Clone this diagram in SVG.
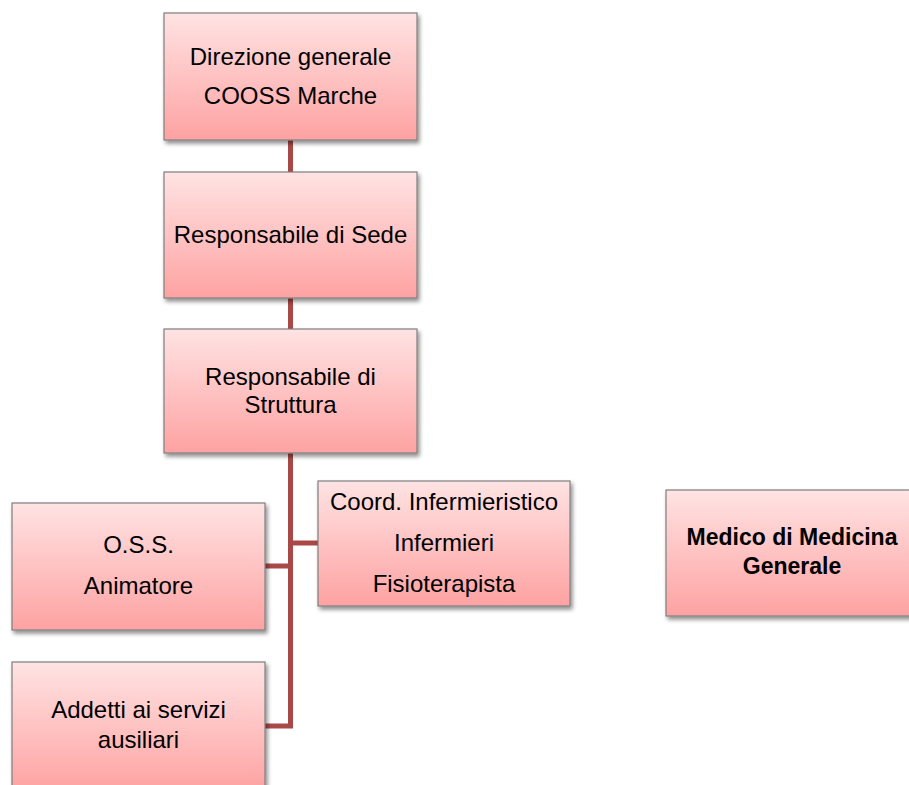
<svg xmlns="http://www.w3.org/2000/svg" width="909" height="785" viewBox="0 0 909 785">
<style>
.box{fill:url(#g);stroke:#7f7f7f;stroke-width:1.2;filter:url(#sh)}
.t{font-family:"Liberation Sans",Arial,sans-serif;font-size:24px;fill:#000;text-anchor:middle}
.b{font-weight:bold;font-size:23px}
.c{stroke:#a94846;stroke-width:5;fill:none}
</style>
<defs>
<linearGradient id="g" x1="0" y1="0" x2="0" y2="1">
<stop offset="0" stop-color="#ffe3e3"/>
<stop offset="1" stop-color="#fea2a2"/>
</linearGradient>
<filter id="sh" x="-10%" y="-10%" width="130%" height="130%">
<feGaussianBlur in="SourceAlpha" stdDeviation="2"/>
<feOffset dx="2" dy="3" result="o"/>
<feComponentTransfer><feFuncA type="linear" slope="0.45"/></feComponentTransfer>
<feMerge><feMergeNode/><feMergeNode in="SourceGraphic"/></feMerge>
</filter>
</defs>
<g id="connectors">
<path class="c" d="M290.5 140V172M290.5 298V329M290.5 453V726H264M290.5 543H318M290.5 566H265"/>
</g>
<g id="direzione"><rect class="box" x="164" y="13" width="253" height="127"/>
<text class="t" x="290.5" y="65">Direzione generale</text><text class="t" x="290.5" y="104">COOSS Marche</text></g>
<g id="sede"><rect class="box" x="164" y="172" width="253" height="126"/>
<text class="t" x="290.5" y="243">Responsabile di Sede</text></g>
<g id="struttura"><rect class="box" x="164" y="329" width="253" height="124"/>
<text class="t" x="290.5" y="385">Responsabile di</text><text class="t" x="290.5" y="413">Struttura</text></g>
<g id="oss"><rect class="box" x="12" y="503" width="253" height="127"/>
<text class="t" x="138.5" y="553">O.S.S.</text><text class="t" x="138.5" y="594">Animatore</text></g>
<g id="coord"><rect class="box" x="318" y="481" width="252" height="125"/>
<text class="t" x="444" y="510">Coord. Infermieristico</text><text class="t" x="444" y="551">Infermieri</text><text class="t" x="444" y="592">Fisioterapista</text></g>
<g id="medico"><rect class="box" x="666" y="490" width="253" height="126"/>
<text class="t b" x="792" y="545">Medico di Medicina</text><text class="t b" x="792" y="574">Generale</text></g>
<g id="addetti"><rect class="box" x="12" y="662" width="253" height="130"/>
<text class="t" x="138.5" y="718">Addetti ai servizi</text><text class="t" x="138.5" y="748">ausiliari</text></g>
</svg>
